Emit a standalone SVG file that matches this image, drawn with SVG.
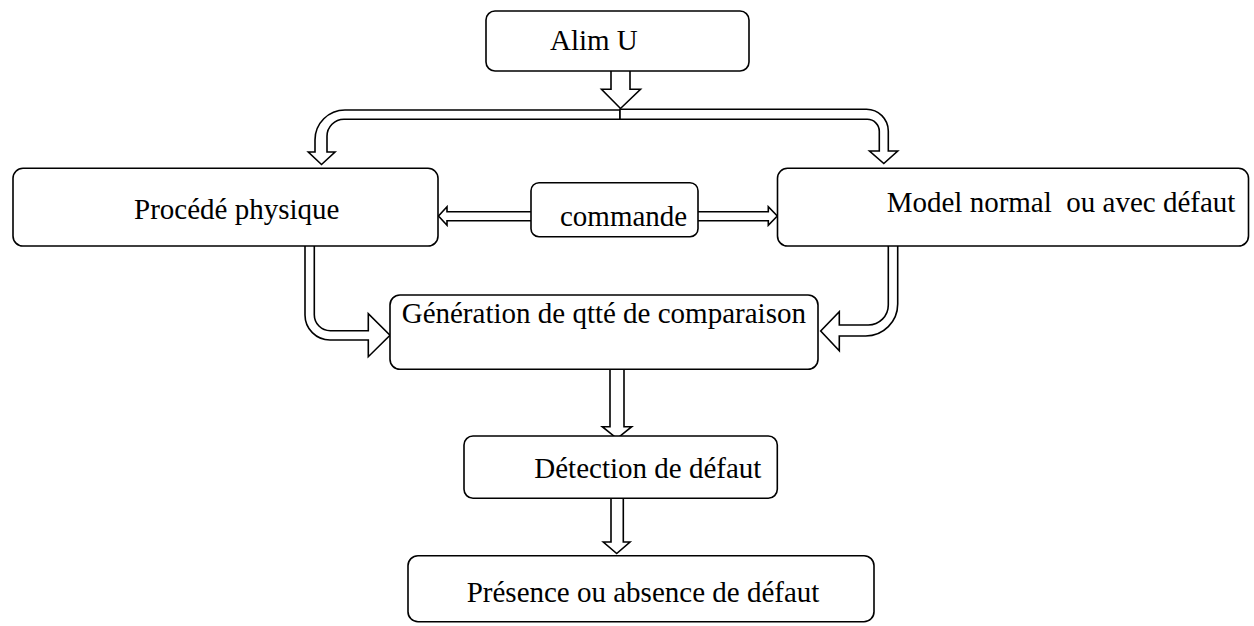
<svg xmlns="http://www.w3.org/2000/svg" width="1254" height="626" viewBox="0 0 1254 626">
<style>
.box{fill:#fff;stroke:#000;stroke-width:1.6}
.arr{fill:#fff;stroke:#000;stroke-width:1.6;stroke-linejoin:miter}
.lbl{font-family:"Liberation Serif","Times New Roman",serif;font-size:29px;fill:#000;white-space:pre}
</style>
<rect width="1254" height="626" fill="#fff"/>
<g id="connectors">
  <path class="arr" d="M611,71 V89.3 H601.5 L620.5,108.5 L640.5,89.3 H630 V71"/>
  <path class="arr" d="M620,110 H345 A30,30 0 0 0 315,140 V152 H308.3 L321.5,164.5 L335,152 H327 V136.3 A17,17 0 0 1 344,119.3 H620 Z"/>
  <path class="arr" d="M620,109.3 H866.5 A21.8,21.8 0 0 1 888.3,131 V151 H897.7 L883.8,163.5 L869.5,151 H879.3 V131.3 A12,12 0 0 0 867.3,119.3 H620 Z"/>
  <path class="arr" d="M531,211.7 H447 V206.7 L438.5,216 L447,225.3 V220.7 H531"/>
  <path class="arr" d="M698,211.7 H768.3 V206.7 L777.3,216 L768.3,225.3 V220.7 H698"/>
  <path class="arr" d="M305,246 V315 A25,25 0 0 0 330,340 H368.3 V356.7 L390,335.3 L368.3,313.7 V330.7 H330.3 A16,16 0 0 1 314.3,314.7 V246"/>
  <path class="arr" d="M888.3,246 V305 A20,20 0 0 1 868.3,325 H839.3 V311.7 L820.7,331 L839.3,350.7 V336 H865.7 A32,32 0 0 0 897.7,304 V246"/>
  <path class="arr" d="M610,369.3 V426.7 H602.3 L617,438.5 L631.7,426.7 H624 V369.3"/>
  <path class="arr" d="M611,498.3 V542 H603.3 L616.7,553.5 L630,542 H623.3 V498.3"/>
</g>
<g id="alim">
  <rect class="box" x="486" y="11" width="263" height="60" rx="9"/>
  <text class="lbl" x="550" y="50">Alim U</text>
</g>
<g id="procede">
  <rect class="box" x="13" y="168.3" width="425" height="77.7" rx="10"/>
  <text class="lbl" x="134" y="219">Procédé physique</text>
</g>
<g id="commande">
  <rect class="box" x="531" y="182.7" width="167" height="54" rx="8"/>
  <text class="lbl" x="560" y="225.7">commande</text>
</g>
<g id="model">
  <rect class="box" x="777.5" y="168.3" width="471" height="77.7" rx="10"/>
  <text class="lbl" x="886.7" y="211.7">Model normal  ou avec défaut</text>
</g>
<g id="generation">
  <rect class="box" x="390" y="295" width="428" height="74.3" rx="10"/>
  <text class="lbl" x="401.7" y="323.3">Génération de qtté de comparaison</text>
</g>
<g id="detection">
  <rect class="box" x="464" y="436" width="313.3" height="62.3" rx="9"/>
  <text class="lbl" x="534.3" y="478.3">Détection de défaut</text>
</g>
<g id="presence">
  <rect class="box" x="408" y="555.7" width="466" height="66" rx="10"/>
  <text class="lbl" x="466.7" y="601.7">Présence ou absence de défaut</text>
</g>
</svg>
